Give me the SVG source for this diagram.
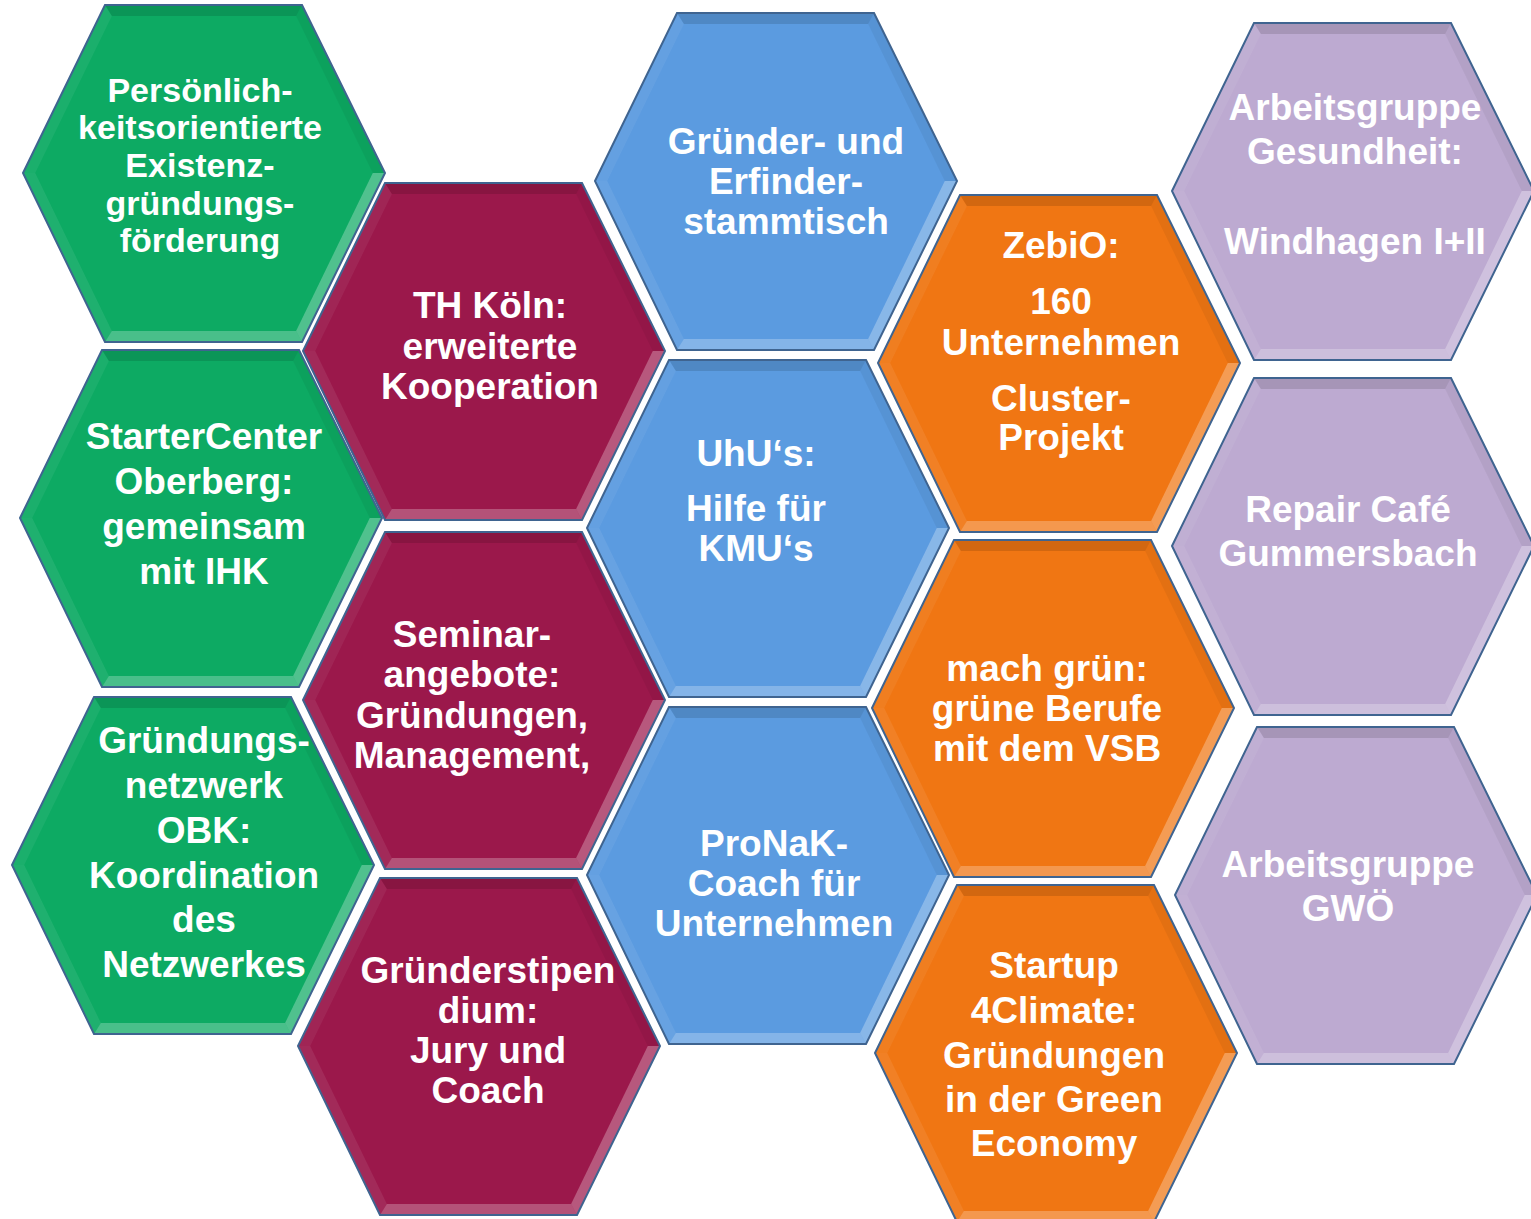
<svg xmlns="http://www.w3.org/2000/svg" xmlns:xlink="http://www.w3.org/1999/xlink" width="1531" height="1219" viewBox="0 0 1531 1219">
<style>
.g{fill:#0DAA63}.m{fill:#9B184B}.b{fill:#5B9BE0}.o{fill:#F07613}.l{fill:#BDAAD1}
.t{font-family:"Liberation Sans",Arial,sans-serif;font-weight:bold;font-size:37px;fill:#fff;text-anchor:middle}
.t1{font-size:34px}
</style>
<defs>
<g id="hex">
<polygon points="0,168 82,0 279,0 362,168 279,337 82,337"/>
<polygon points="82,0 279,0 273.1,11 88.9,11" fill="#000" fill-opacity="0.12"/>
<polygon points="0,168 82,0 88.9,11 12.2,168" fill="#fff" fill-opacity="0.06"/>
<polygon points="279,0 362,168 349.8,168 273.1,11" fill="#000" fill-opacity="0.05"/>
<polygon points="0,168 12.2,168 88.9,326 82,337" fill="#fff" fill-opacity="0.08"/>
<polygon points="362,168 279,337 273.1,326 349.8,168" fill="#fff" fill-opacity="0.28"/>
<polygon points="82,337 279,337 273.1,326 88.9,326" fill="#fff" fill-opacity="0.25"/>
<polygon points="0,168 82,0 279,0 362,168 279,337 82,337" fill="none" stroke="#3F6490" stroke-width="2"/>
</g>
</defs>
<g id="n1"><use xlink:href="#hex" class="g" transform="translate(23,5)"/>
<text class="t t1"><tspan x="200" y="102">Persönlich-</tspan><tspan x="200" y="139">keitsorientierte</tspan><tspan x="200" y="177">Existenz-</tspan><tspan x="200" y="215">gründungs-</tspan><tspan x="200" y="252">förderung</tspan></text></g>
<g id="n2"><use xlink:href="#hex" class="g" transform="translate(20,350)"/>
<text class="t"><tspan x="204" y="449">StarterCenter</tspan><tspan x="204" y="494">Oberberg:</tspan><tspan x="204" y="539">gemeinsam</tspan><tspan x="204" y="584">mit IHK</tspan></text></g>
<g id="n3"><use xlink:href="#hex" class="g" transform="translate(12,697)"/>
<text class="t"><tspan x="204" y="753">Gründungs-</tspan><tspan x="204" y="798">netzwerk</tspan><tspan x="204" y="843">OBK:</tspan><tspan x="204" y="888">Koordination</tspan><tspan x="204" y="932">des</tspan><tspan x="204" y="977">Netzwerkes</tspan></text></g>
<g id="n4"><use xlink:href="#hex" class="m" transform="translate(303,183)"/>
<text class="t"><tspan x="490" y="318">TH Köln:</tspan><tspan x="490" y="359">erweiterte</tspan><tspan x="490" y="399">Kooperation</tspan></text></g>
<g id="n5"><use xlink:href="#hex" class="m" transform="translate(303,532)"/>
<text class="t"><tspan x="472" y="647">Seminar-</tspan><tspan x="472" y="687">angebote:</tspan><tspan x="472" y="728">Gründungen,</tspan><tspan x="472" y="768">Management,</tspan></text></g>
<g id="n6"><use xlink:href="#hex" class="m" transform="translate(298,878)"/>
<text class="t"><tspan x="488" y="983">Gründerstipen</tspan><tspan x="488" y="1023">dium:</tspan><tspan x="488" y="1063">Jury und</tspan><tspan x="488" y="1103">Coach</tspan></text></g>
<g id="n7"><use xlink:href="#hex" class="b" transform="translate(595,13)"/>
<text class="t"><tspan x="786" y="154">Gründer- und</tspan><tspan x="786" y="194">Erfinder-</tspan><tspan x="786" y="234">stammtisch</tspan></text></g>
<g id="n8"><use xlink:href="#hex" class="b" transform="translate(587,360)"/>
<text class="t"><tspan x="756" y="466">UhU‘s:</tspan><tspan x="756" y="521">Hilfe für</tspan><tspan x="756" y="561">KMU‘s</tspan></text></g>
<g id="n9"><use xlink:href="#hex" class="b" transform="translate(587,707)"/>
<text class="t"><tspan x="774" y="856">ProNaK-</tspan><tspan x="774" y="896">Coach für</tspan><tspan x="774" y="936">Unternehmen</tspan></text></g>
<g id="n10"><use xlink:href="#hex" class="o" transform="translate(878,195)"/>
<text class="t"><tspan x="1061" y="258">ZebiO:</tspan><tspan x="1061" y="314">160</tspan><tspan x="1061" y="355">Unternehmen</tspan><tspan x="1061" y="411">Cluster-</tspan><tspan x="1061" y="450">Projekt</tspan></text></g>
<g id="n11"><use xlink:href="#hex" class="o" transform="translate(872,540)"/>
<text class="t"><tspan x="1047" y="681">mach grün:</tspan><tspan x="1047" y="721">grüne Berufe</tspan><tspan x="1047" y="761">mit dem VSB</tspan></text></g>
<g id="n12"><use xlink:href="#hex" class="o" transform="translate(875,885)"/>
<text class="t"><tspan x="1054" y="978">Startup</tspan><tspan x="1054" y="1023">4Climate:</tspan><tspan x="1054" y="1068">Gründungen</tspan><tspan x="1054" y="1112">in der Green</tspan><tspan x="1054" y="1156">Economy</tspan></text></g>
<g id="n13"><use xlink:href="#hex" class="l" transform="translate(1172,23)"/>
<text class="t"><tspan x="1355" y="120">Arbeitsgruppe</tspan><tspan x="1355" y="164">Gesundheit:</tspan><tspan x="1355" y="254">Windhagen I+II</tspan></text></g>
<g id="n14"><use xlink:href="#hex" class="l" transform="translate(1172,378)"/>
<text class="t"><tspan x="1348" y="522">Repair Café</tspan><tspan x="1348" y="566">Gummersbach</tspan></text></g>
<g id="n15"><use xlink:href="#hex" class="l" transform="translate(1175,727)"/>
<text class="t"><tspan x="1348" y="877">Arbeitsgruppe</tspan><tspan x="1348" y="921">GWÖ</tspan></text></g>
</svg>
